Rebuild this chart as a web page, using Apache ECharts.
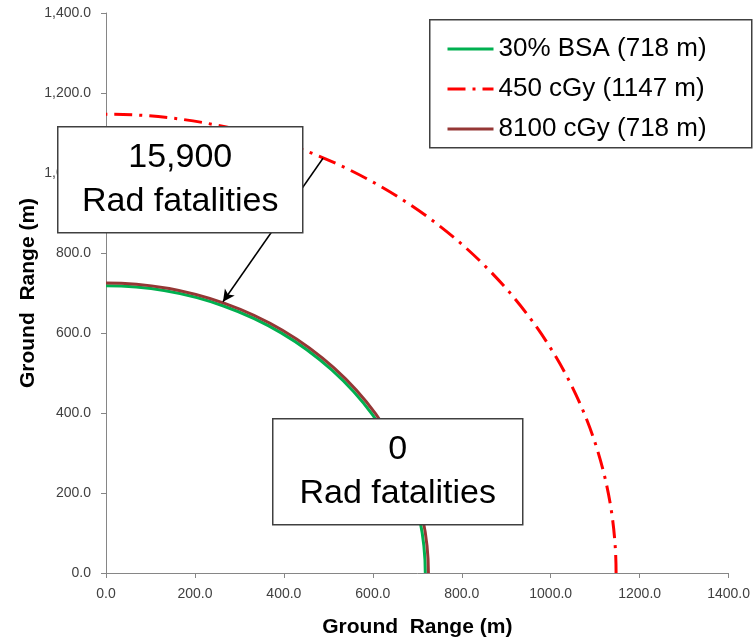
<!DOCTYPE html>
<html>
<head>
<meta charset="utf-8">
<script src="https://cdn.jsdelivr.net/npm/echarts@6/dist/echarts.min.js"></script>
<style>
	html,body{margin:0;padding:0;background:#fff;}
	#chart{width:753px;height:643px;}
</style>
</head>
<body>
<div id="chart"></div>
<script>
	// 数据
	var seriesNames = ['30% BSA (718 m)', '450 cGy (1147 m)', '8100 cGy (718 m)'];
	var radii = [718, 1147, 725];
	var colors = ['#00B050', '#FF0000', '#953735'];
	var xTickLabels = ['0.0', '200.0', '400.0', '600.0', '800.0', '1000.0', '1200.0', '1400.0'];
	var yTickLabels = ['0.0', '200.0', '400.0', '600.0', '800.0', '1,000.0', '1,200.0', '1,400.0'];
	var arrowStart = [488, 1037];
	var arrowEnd = [263, 678];
	var box1Lines = ['15,900', 'Rad fatalities'];
	var box2Lines = ['0', 'Rad fatalities'];

	var dashStyles = ['solid', [18, 7, 3, 7], 'solid'];
	var font = 'Liberation Sans';

	function renderArc(params, api) {
		var r = api.value(0);
		var o = api.coord([0, 0]);
		var px = api.coord([r, 0]);
		var py = api.coord([0, r]);
		var rx = px[0] - o[0];
		var ry = o[1] - py[1];
		var i = params.seriesIndex - 3;
		return {
			type: 'path',
			shape: {
				pathData: 'M ' + px[0] + ' ' + px[1] + ' A ' + rx + ' ' + ry + ' 0 0 0 ' + py[0] + ' ' + py[1]
			},
			style: {
				fill: 'none',
				stroke: colors[i],
				lineWidth: 3,
				lineDash: dashStyles[i] === 'solid' ? null : dashStyles[i]
			}
		};
	}

	var series = [];
	// 图例用的线
	for (var i = 0; i < seriesNames.length; i++) {
		series.push({
			name: seriesNames[i],
			type: 'line',
			data: [],
			symbol: 'none',
			color: colors[i],
			lineStyle: { color: colors[i], width: 3, type: dashStyles[i] }
		});
	}
	// 圆弧
	for (var i = 0; i < seriesNames.length; i++) {
		series.push({
			name: seriesNames[i],
			type: 'custom',
			renderItem: renderArc,
			data: [[radii[i]]],
			silent: true
		});
	}
	// 箭头
	series.push({
		name: 'arrow',
		type: 'line',
		data: [],
		markLine: {
			silent: true,
			symbol: ['none', 'arrow'],
			symbolSize: [9, 12],
			label: { show: false },
			lineStyle: { color: '#000', width: 1.5, type: 'solid' },
			data: [[{ coord: arrowStart }, { coord: arrowEnd }]]
		}
	});

	function makeBox(x, y, w, h, lines) {
		return {
			type: 'group',
			left: x,
			top: y,
			z: 100,
			children: [{
				type: 'rect',
				z: 100,
				shape: { x: 0, y: 0, width: w, height: h },
				style: { fill: '#fff', stroke: '#404040', lineWidth: 1.5 }
			}, {
				type: 'text',
				z: 101,
				x: w / 2,
				y: h / 2,
				style: {
					text: lines.join('\n'),
					fill: '#000',
					font: '34px "' + font + '"',
					lineHeight: 44,
					align: 'center',
					verticalAlign: 'middle'
				}
			}]
		};
	}

	var chart = echarts.init(document.getElementById('chart'));
	var option = {
		animation: false,
		grid: { left: 106, right: 24, top: 13, bottom: 70, containLabel: false },
		legend: {
			data: seriesNames,
			orient: 'vertical',
			left: 441,
			top: 29,
			itemWidth: 46,
			itemHeight: 14,
			itemGap: 10,
			itemStyle: { opacity: 0 },
			lineStyle: { width: 3 },
			textStyle: { fontFamily: font, fontSize: 26, lineHeight: 30, color: '#000' },
			selectedMode: false
		},
		xAxis: {
			type: 'value',
			min: 0,
			max: 1400,
			interval: 200,
			name: 'Ground  Range (m)',
			nameLocation: 'middle',
			nameGap: 44,
			nameMoveOverlap: false,
			nameTextStyle: { fontFamily: font, fontSize: 21, fontWeight: 'bold', color: '#000' },
			axisLine: { show: true, lineStyle: { color: '#868686', width: 1 } },
			axisTick: { show: true, length: 5, lineStyle: { color: '#868686' } },
			splitLine: { show: false },
			axisLabel: {
				color: '#404040',
				fontFamily: font,
				fontSize: 14,
				margin: 14,
				formatter: function (v) { return xTickLabels[Math.round(v / 200)]; }
			}
		},
		yAxis: {
			type: 'value',
			min: 0,
			max: 1400,
			interval: 200,
			name: 'Ground  Range (m)',
			nameLocation: 'middle',
			nameGap: 67,
			nameMoveOverlap: false,
			nameTextStyle: { fontFamily: font, fontSize: 21, fontWeight: 'bold', color: '#000' },
			axisLine: { show: true, lineStyle: { color: '#868686', width: 1 } },
			axisTick: { show: true, length: 5, lineStyle: { color: '#868686' } },
			splitLine: { show: false },
			axisLabel: {
				color: '#404040',
				fontFamily: font,
				fontSize: 14,
				margin: 15,
				formatter: function (v) { return yTickLabels[Math.round(v / 200)]; }
			}
		},
		graphic: [
			{
				type: 'rect',
				left: 429,
				top: 19,
				z: 0,
				shape: { x: 0, y: 0, width: 322, height: 128 },
				style: { fill: '#fff', stroke: '#404040', lineWidth: 1.5 }
			},
			makeBox(57, 126, 245, 106, box1Lines),
			makeBox(272, 418, 250, 106, box2Lines)
		],
		series: series
	};
	chart.setOption(option);
</script>
</body>
</html>
